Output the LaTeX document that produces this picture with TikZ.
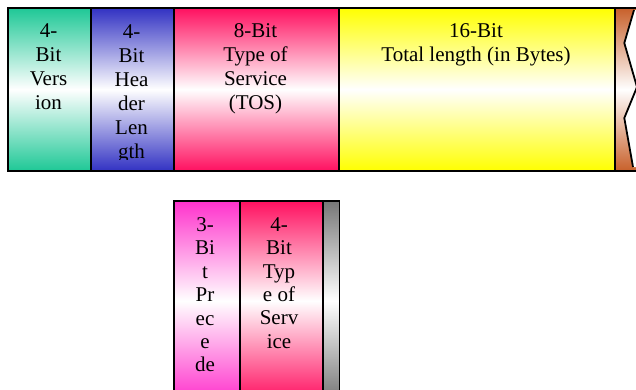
\documentclass[tikz,border=0pt]{standalone}
\usepackage{fontspec}
\IfFontExistsTF{LiberationSerif-Regular.ttf}
  {\setmainfont{LiberationSerif}[Extension=.ttf,UprightFont=*-Regular,
     BoldFont=*-Bold,ItalicFont=*-Italic,BoldItalicFont=*-BoldItalic]}
  {\setmainfont{Liberation Serif}}

\definecolor{verGreen}{RGB}{30,200,150}
\definecolor{hdrBlue}{RGB}{50,50,195}
\definecolor{tosRed}{RGB}{255,16,96}
\definecolor{lenYellow}{RGB}{255,255,0}
\definecolor{precMagenta}{RGB}{255,50,204}
\definecolor{endGray}{RGB}{118,118,118}
\definecolor{endOrange}{RGB}{200,96,42}

\begin{document}
\begin{tikzpicture}[x=1pt,y=-1pt,
  field/.style={draw=black,line width=1.8pt,inner sep=0pt,anchor=north west},
  fade/.style={top color=#1,bottom color=#1,middle color=white},
  toplabel/.style={anchor=north,align=center,inner sep=0pt,
    font=\rmfamily\fontsize{21}{24}\selectfont},
  lowlabel/.style={anchor=north,align=center,inner sep=0pt,
    font=\rmfamily\fontsize{21}{23.4}\selectfont}]
\useasboundingbox (0,0) rectangle (636,389);

% upper row: header fields of the datagram
\node[field,fade=verGreen,minimum width=83pt,minimum height=163pt] (version) at (7,7) {};
\node[field,fade=hdrBlue,minimum width=83pt,minimum height=163pt] (hlen) at (90,7) {};
\node[field,fade=tosRed,minimum width=165pt,minimum height=163pt] (tos) at (173,7) {};
\node[field,fade=lenYellow,minimum width=276pt,minimum height=163pt] (totlen) at (338,7) {};
\node[field,fade=endOrange,minimum width=50pt,minimum height=163pt] (rest) at (614,7) {};

% torn edge of the truncated field
\fill[white] (634,10) -- (624.3,43) -- (637,87) -- (624.3,118) -- (633,167)
  -- (670,167) -- (670,10) -- cycle;
\draw[line width=1.8pt,line join=miter] (634,10) -- (624.3,43) -- (637,87)
  -- (624.3,118) -- (633,167);

\node[toplabel] (versionText) at (48.5,23.8) {4-\\Bit\\Vers\\ion};
\begin{scope}
  \clip (90,7) rectangle (173,159.5);
  \node[toplabel] (hlenText) at (131.5,24.5) {4-\\Bit\\Hea\\der\\Len\\gth};
\end{scope}
\node[toplabel] (tosText) at (255.5,23.8) {8-Bit\\Type of\\Service\\(TOS)};
\node[toplabel] (totlenText) at (476,23.8) {16-Bit\\Total length (in Bytes)};

% lower row: breakdown of the TOS byte
\node[field,fade=precMagenta,minimum width=66pt,minimum height=200pt] (prec) at (173,200) {};
\node[field,fade=tosRed,minimum width=83pt,minimum height=200pt] (tosbits) at (239,200) {};
\node[field,fade=endGray,minimum width=16.5pt,minimum height=200pt] (unused) at (322,200) {};

\node[lowlabel] (precText) at (205,217.3) {3-\\Bi\\t\\Pr\\ec\\e\\de};
\node[lowlabel] (tosbitsText) at (279,217.3) {4-\\Bit\\Typ\\e of\\Serv\\ice};
\end{tikzpicture}
\end{document}
